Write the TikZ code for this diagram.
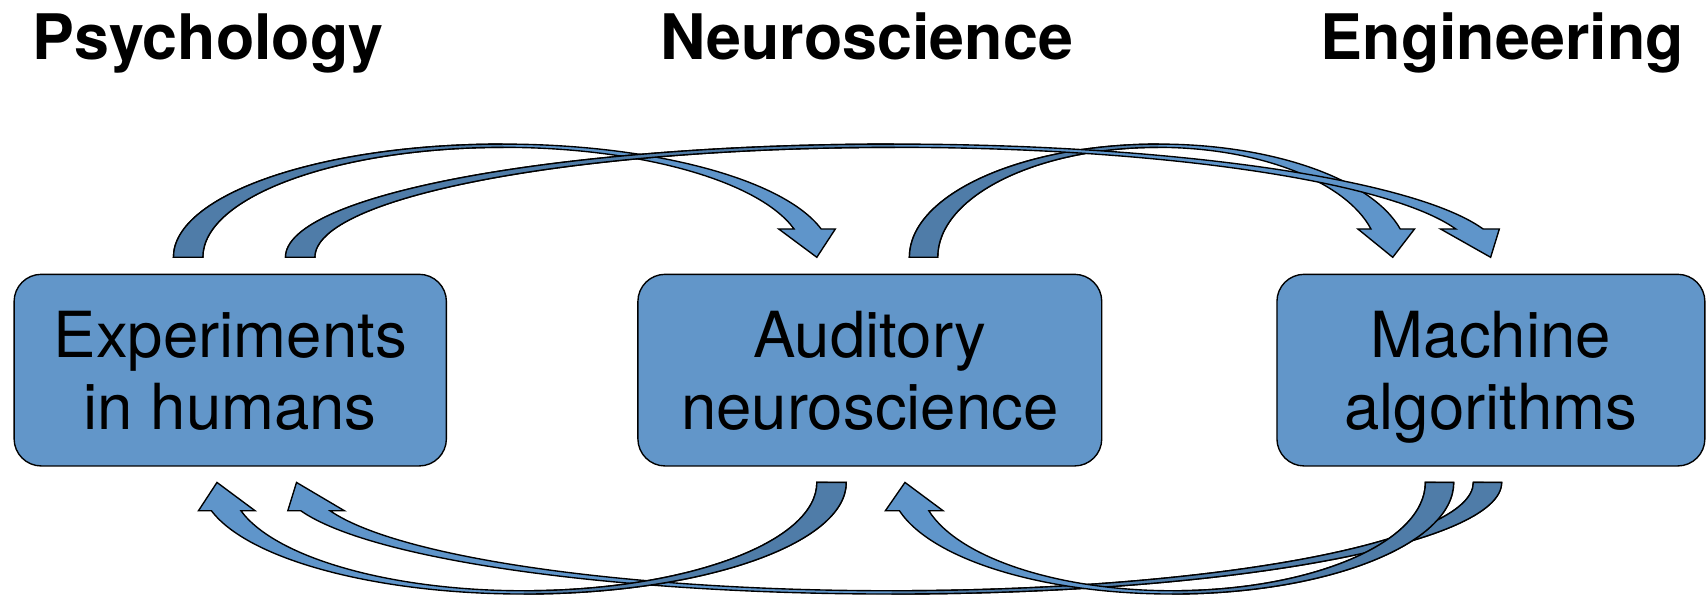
\documentclass[tikz,border=0pt]{standalone}
\usepackage{fontspec}
\setmainfont{TeX Gyre Heros}
\usepackage{tikz}
\usetikzlibrary{positioning,calc}

\definecolor{boxblue}{RGB}{98,150,201}
\definecolor{arrowback}{RGB}{79,124,168}
\definecolor{arrowfront}{RGB}{95,149,202}

\tikzset{
  fieldbox/.style={draw, line width=0.9pt, fill=boxblue, rounded corners=6.25mm,
    minimum height=4.4cm, text depth=0pt, align=center, font=\fontsize{41.5}{47}\selectfont},
  fieldtitle/.style={anchor=base, font=\fontsize{41}{47}\selectfont\bfseries},
  fronthalf/.style={fill=arrowfront, draw, line width=0.9pt, line join=miter},
  backhalf/.style={fill=arrowback, draw, line width=0.9pt}
}

\begin{document}
\begin{tikzpicture}[x=0.025cm, y=0.025cm]
\useasboundingbox (0,0) rectangle (1568,-547);

% field titles
\node[fieldtitle] (psy) at (191,-55) {Psychology};
\node[fieldtitle] (neuro) at (796,-55) {Neuroscience};
\node[fieldtitle] (eng) at (1380,-55) {Engineering};

% the three boxes
\node[fieldbox, minimum width=9.925cm] (exp) at (211.5,-340) {Experiments\\in humans};
\node[fieldbox, minimum width=10.65cm] (aud) at (799,-340) {Auditory\\neuroscience};
\node[fieldbox, minimum width=9.825cm] (mach) at (1369.5,-340) {Machine\\algorithms};

% top arrows
% experiments -> auditory
\filldraw[fronthalf] ($(exp.north west)+(147,15)$) arc[start angle=180, end angle=90, x radius=302.3, y radius=104] coordinate (ea1)
  arc[start angle=90, end angle=14.48, x radius=302.3, y radius=104]
  -- ++(13,0) -- ++(-17,-26) -- ++(-35,26) -- ++(14.1,0)
  arc[start angle=14.92, end angle=90, x radius=276.2, y radius=101] coordinate (ea2)
  arc[start angle=90, end angle=180, x radius=276.2, y radius=101] -- cycle;
\filldraw[backhalf] (ea2) arc[start angle=90, end angle=180, x radius=276.2, y radius=101]
  -- ++(-27,0) arc[start angle=180, end angle=90, x radius=302.3, y radius=104];

% auditory -> machine
\filldraw[fronthalf] ($(aud.north west)+(250,15)$) arc[start angle=180, end angle=90, x radius=229.1, y radius=104] coordinate (am1)
  arc[start angle=90, end angle=14.48, x radius=229.1, y radius=104]
  -- ++(13.1,0) -- ++(-20,-26) -- ++(-32,26) -- ++(12,0)
  arc[start angle=14.92, end angle=90, x radius=202.4, y radius=101] coordinate (am2)
  arc[start angle=90, end angle=180, x radius=202.4, y radius=101] -- cycle;
\filldraw[backhalf] (am2) arc[start angle=90, end angle=180, x radius=202.4, y radius=101]
  -- ++(-26,0) arc[start angle=180, end angle=90, x radius=229.1, y radius=104];

% experiments -> machine
\filldraw[fronthalf] ($(exp.north west)+(250,15)$) arc[start angle=180, end angle=90, x radius=558.9, y radius=104] coordinate (em1)
  arc[start angle=90, end angle=14.48, x radius=558.9, y radius=104]
  -- ++(14.9,0) -- ++(-8,-26) -- ++(-46,26) -- ++(14,0)
  arc[start angle=14.92, end angle=90, x radius=533.0, y radius=101] coordinate (em2)
  arc[start angle=90, end angle=180, x radius=533.0, y radius=101] -- cycle;
\filldraw[backhalf] (em2) arc[start angle=90, end angle=180, x radius=533.0, y radius=101]
  -- ++(-27,0) arc[start angle=180, end angle=90, x radius=558.9, y radius=104];

% bottom arrows
% machine -> experiments
\filldraw[fronthalf] ($(mach.south west)+(207,-14.5)$) arc[start angle=0, end angle=-90, x radius=560.7, y radius=102.5] coordinate (me1)
  arc[start angle=-90, end angle=-165.31, x radius=560.7, y radius=102.5]
  -- ++(-11.9,0) -- ++(8,26) -- ++(44,-26) -- ++(-13.2,0)
  arc[start angle=-164.85, end angle=-90, x radius=534.4, y radius=99.5] coordinate (me2)
  arc[start angle=-90, end angle=0, x radius=534.4, y radius=99.5] -- cycle;
\filldraw[backhalf] (me2) arc[start angle=-90, end angle=0, x radius=534.4, y radius=99.5]
  -- ++(26,0) arc[start angle=0, end angle=-90, x radius=560.7, y radius=102.5];

% machine -> auditory
\filldraw[fronthalf] ($(mach.south west)+(163,-14.5)$) arc[start angle=0, end angle=-90, x radius=258.8, y radius=102.5] coordinate (ma1)
  arc[start angle=-90, end angle=-165.31, x radius=258.8, y radius=102.5]
  -- ++(-12.9,0) -- ++(18,26) -- ++(35,-26) -- ++(-13.1,0)
  arc[start angle=-164.85, end angle=-90, x radius=232.1, y radius=99.5] coordinate (ma2)
  arc[start angle=-90, end angle=0, x radius=232.1, y radius=99.5] -- cycle;
\filldraw[backhalf] (ma2) arc[start angle=-90, end angle=0, x radius=232.1, y radius=99.5]
  -- ++(26,0) arc[start angle=0, end angle=-90, x radius=258.8, y radius=102.5];

% auditory -> experiments
\filldraw[fronthalf] ($(aud.south west)+(192,-14.5)$) arc[start angle=0, end angle=-90, x radius=296.4, y radius=102.5] coordinate (ae1)
  arc[start angle=-90, end angle=-165.31, x radius=296.4, y radius=102.5]
  -- ++(-11.9,0) -- ++(17,26) -- ++(35,-26) -- ++(-13,0)
  arc[start angle=-164.85, end angle=-90, x radius=269.2, y radius=99.5] coordinate (ae2)
  arc[start angle=-90, end angle=0, x radius=269.2, y radius=99.5] -- cycle;
\filldraw[backhalf] (ae2) arc[start angle=-90, end angle=0, x radius=269.2, y radius=99.5]
  -- ++(27,0) arc[start angle=0, end angle=-90, x radius=296.4, y radius=102.5];
\end{tikzpicture}
\end{document}
